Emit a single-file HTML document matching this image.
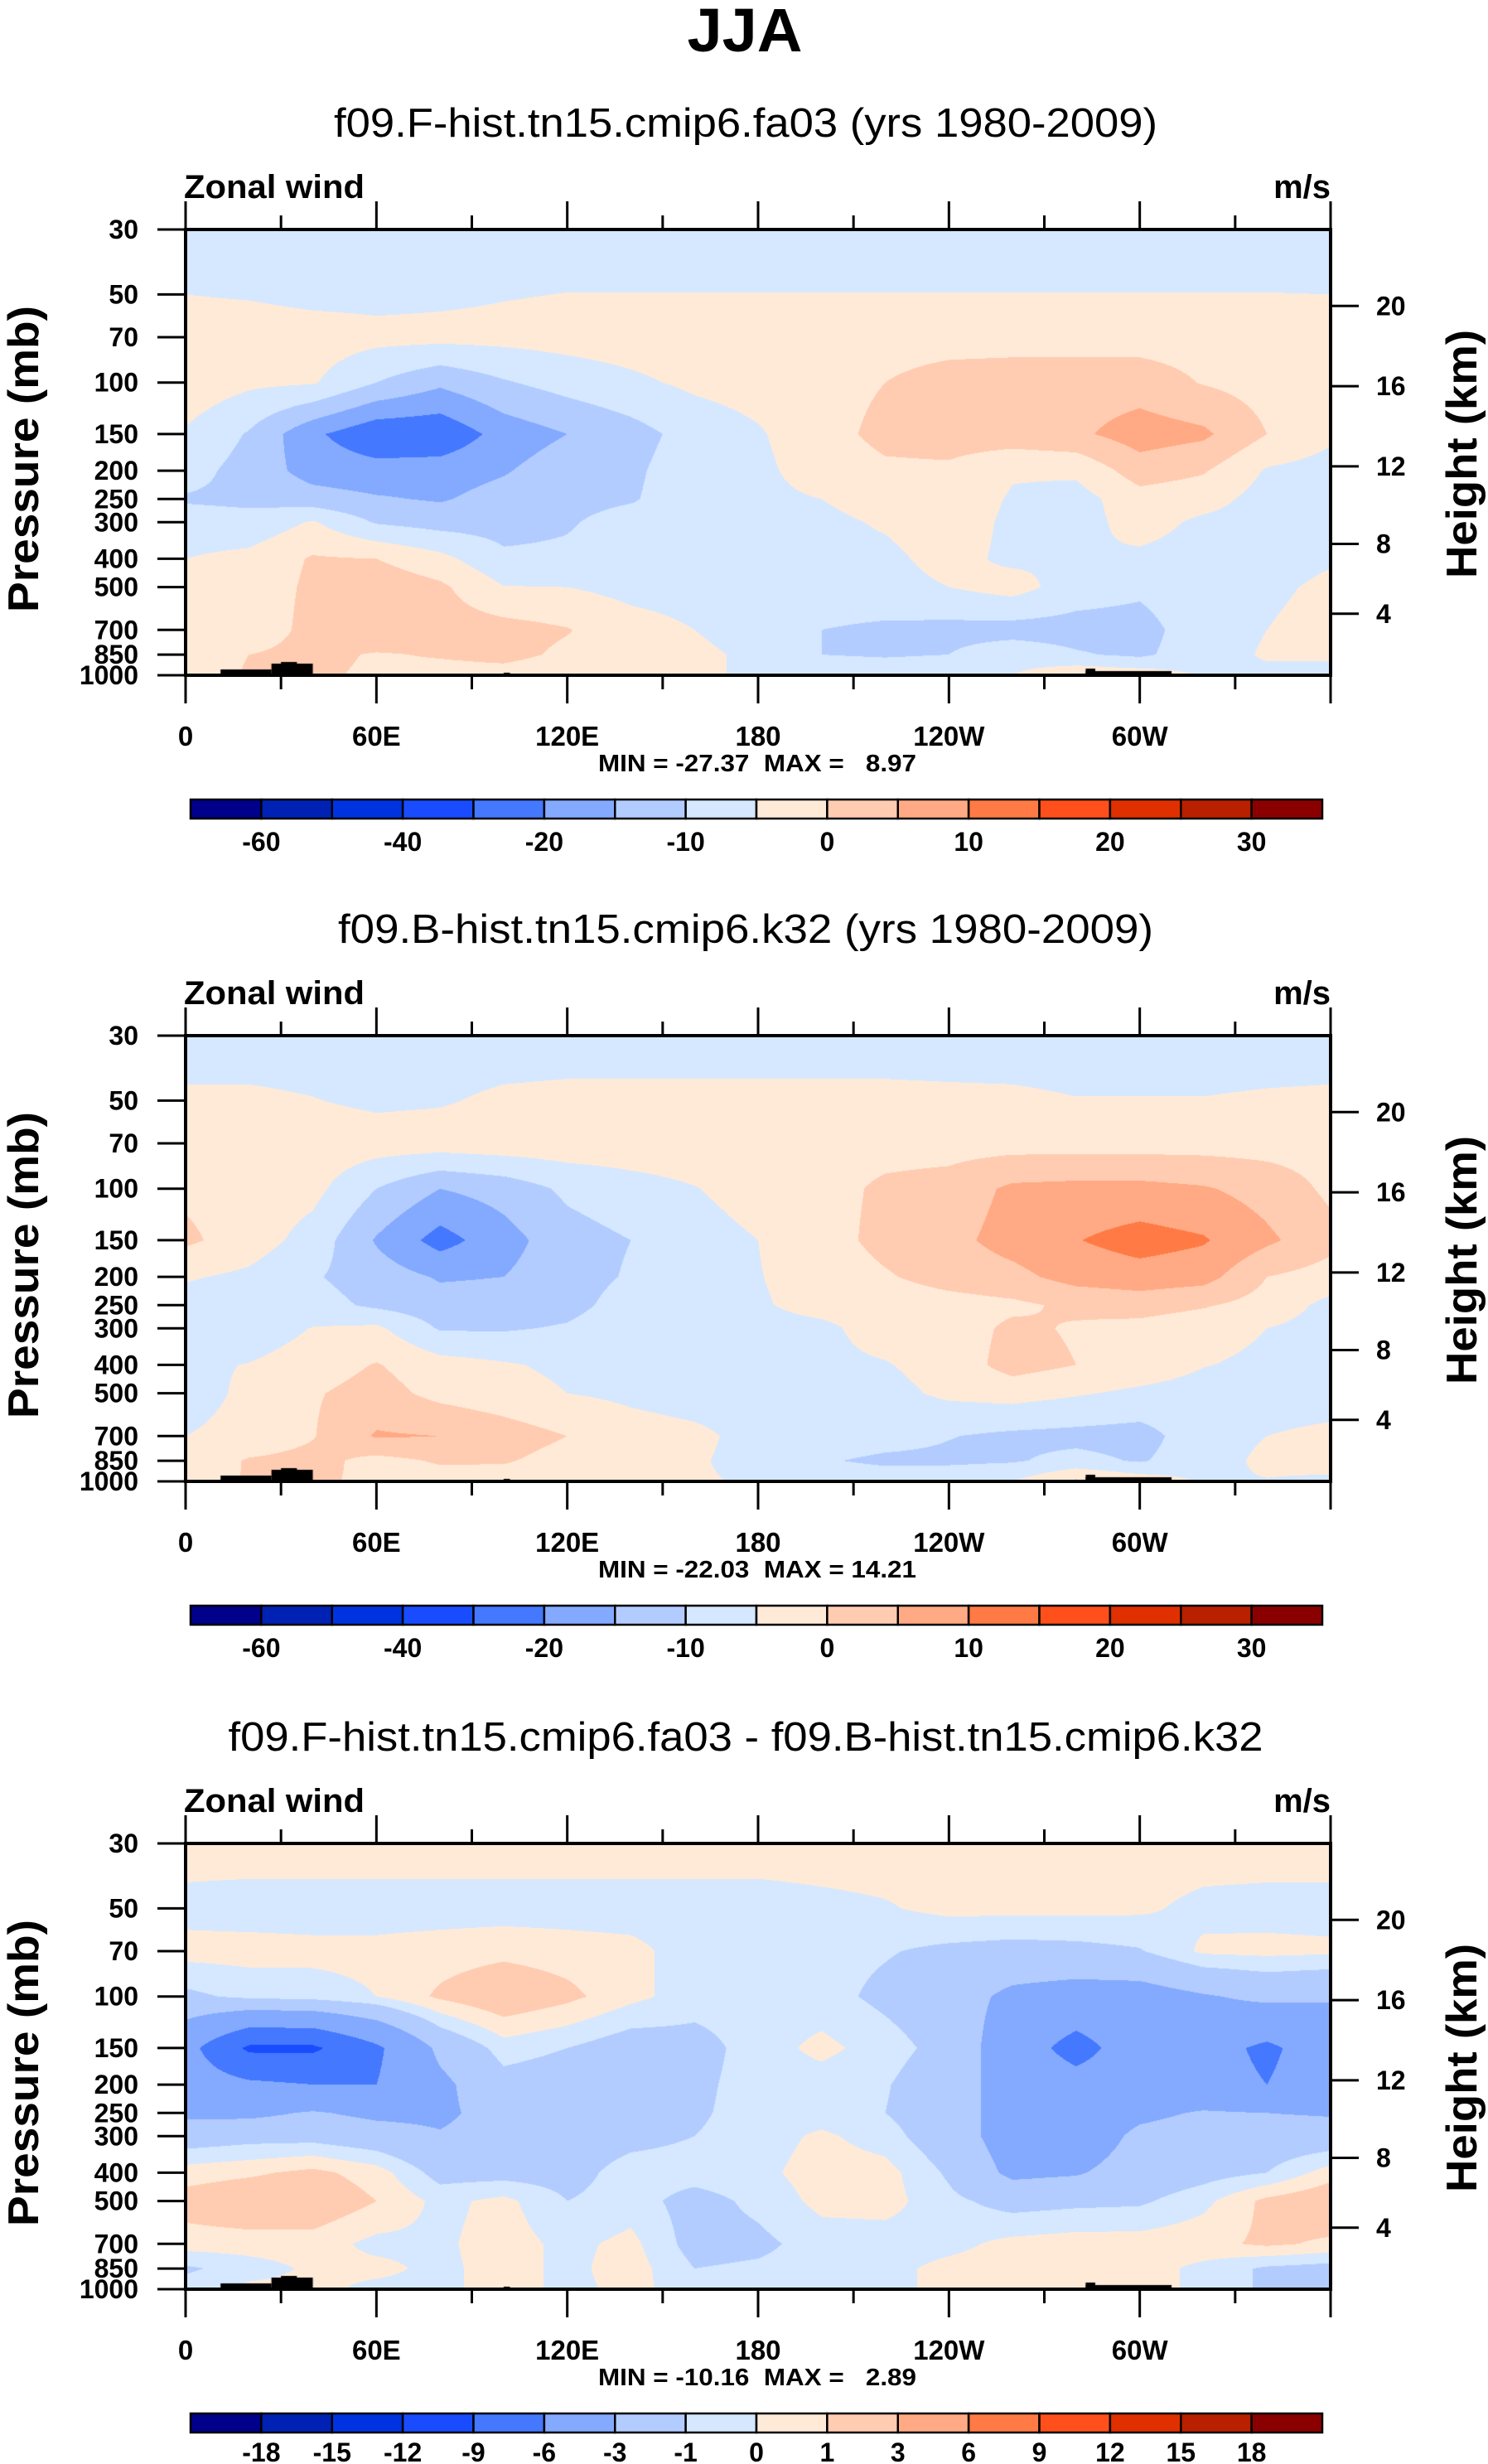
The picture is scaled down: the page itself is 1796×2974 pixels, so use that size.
<!DOCTYPE html>
<html><head><meta charset="utf-8">
<style>
html,body{margin:0;padding:0;background:#fff;}
body{width:1796px;height:2974px;position:relative;overflow:hidden;font-family:"Liberation Sans",Arial,sans-serif;}
canvas{position:absolute;}
svg{position:absolute;left:0;top:0;}
text{font-family:"Liberation Sans",Arial,sans-serif;fill:#000;white-space:pre;}
</style></head>
<body>
<canvas id="c0" width="1382" height="538" style="left:224px;top:277px"></canvas>
<canvas id="c1" width="1382" height="538" style="left:224px;top:1250px"></canvas>
<canvas id="c2" width="1382" height="538" style="left:224px;top:2225px"></canvas>
<svg id="ov" width="1796" height="2974" xmlns="http://www.w3.org/2000/svg"></svg>
<script>
// ---- data ----
const lonPoints=[0,20,40,60,80,100,120,140,160,180,200,220,240,260,280,300,320,340,360];
const pressureLevels=[30,50,70,100,150,200,250,300,400,500,700,850,1000];
const pressureTicks=[30,50,70,100,150,200,250,300,400,500,700,850,1000];
const heightTicks=[4,8,12,16,20];
const lonTickValues=[0,60,120,180,240,300];
const lonTickLabels=['0','60E','120E','180','120W','60W'];
const fullLevels=[-60,-50,-40,-30,-20,-15,-10,-5,0,5,10,15,20,25,30];
const fullLabels=['-60','','-40','','-20','','-10','','0','','10','','20','','30'];
const diffLevels=[-18,-15,-12,-9,-6,-3,-1,0,1,3,6,9,12,15,18];
const diffLabels=['-18','-15','-12','-9','-6','-3','-1','0','1','3','6','9','12','15','18'];
const colors=['#00008a','#0022b4','#0033e0','#1a4cff','#4478ff','#84aaff','#b3ccff','#d5e8ff','#ffead8','#ffccb2','#ffaa84','#ff7a44','#ff4f1a','#e03000','#b82000','#8a0000'];

const fa03Values=[
[-8,-8,-8,-8,-8,-8,-8,-8,-8,-8,-8,-8,-8,-8,-8,-8,-8,-8,-8],
[-5,-5.5,-6.5,-6.5,-6,-5.3,-4.9,-4.9,-4.9,-4.9,-4.9,-4.9,-4.9,-4.9,-4.9,-4.9,-4.9,-4.9,-5],
[-2,-2,-2.5,-3.5,-3.5,-3.5,-3,-2.5,-2,-2,-2,-2,-2,-2,-2,-2,-2,-2,-2],
[-1.8,-4,-4.5,-10,-14,-10.5,-8,-6,-4,-3,-2,0,2,2.5,2.5,2.5,-0.3,-2,-1.8],
[-5.5,-10.5,-19,-24,-24,-18,-15,-12,-8,-5.5,-2,1.5,2.5,3,4,7.5,6,0,-4],
[-8,-12,-17,-18,-17.5,-15.5,-12,-11,-7,-6,-3,-1,-1,-4.5,-4,2.5,0.5,-5.5,-7],
[-10.5,-11,-13,-14.5,-15.5,-13,-11.5,-10.5,-7,-6,-5,-3,-2,-5.5,-7,-2,-3,-7,-7],
[-8,-8.5,-4.5,-10.5,-12,-12,-10.5,-8,-7,-6.5,-6,-4.5,-2.5,-6,-7,-3,-6,-7,-7],
[-5,-3.5,0.5,0,-3.5,-9,-9,-7,-7,-7,-6.5,-6,-3.5,-6,-5,-6,-7,-7,-5.5],
[-3,-3,1,3.5,1,-4.8,-5,-6.5,-7,-7,-7,-6.5,-5,-3,-7.5,-9,-6.5,-6,-4],
[-3,-3,1.5,5,2.5,2,0.3,-3,-5,-7,-10,-11,-11.5,-12,-12,-12,-7,-5,-3],
[-2,0,1.5,-0.5,0.5,1.5,-1,-3,-4,-6,-10,-10.5,-10,-7,-9.5,-11,-7,-4.5,-5],
[-3,0.5,1,-1,-2,-2,-3,-3.5,-4.5,-5.5,-7,-7,-6.5,-5,-1,-2,-5.5,-6,-5]];

const k32Values=[
[-8,-8,-8,-8,-8,-8,-8,-8,-8,-8,-8,-8,-8,-8,-8,-8,-8,-8,-8],
[-4,-4,-4.8,-6,-5.5,-4,-3.5,-3.5,-3.5,-3.5,-3.5,-3.5,-3.8,-4,-4.8,-4.8,-4.8,-4.3,-4],
[-2,-2,-2,-2.5,-2.5,-2,-2,-2,-2,-2,-2,-2,-2,-2,-2,-2,-2,-2,-2],
[-1,-2,-3.5,-10,-15,-13,-9,-7,-5.2,-3,-2,1,2,6,6.5,6.5,5.5,3,-1],
[1,-2.5,-7,-15.5,-22,-17,-12,-10,-7,-5,-2,1.5,3.5,7,9.8,12,10.5,6,1.5],
[-4.5,-6,-9.5,-12.5,-15.5,-15,-12,-9.5,-7,-5.2,-3,-0.5,2,3.5,7,8,7,0,-2],
[-7,-7.5,-8,-11,-13,-13,-11.5,-8,-7,-5.5,-3.5,-3,-2,-1,1,2,0.5,-2,-6.5],
[-8,-8,-4.8,-4,-10.5,-10.5,-9.5,-7,-7,-6.5,-6,-3,-2.5,1,-0.5,-1.5,-3,-5,-7],
[-6,-4.8,-2.5,0.3,-3,-4.5,-6,-7,-7,-7,-6,-5.3,-3,2,0,-2,-4.8,-6,-6.5],
[-7,-4,-0.5,2,-1.5,-3,-5,-6,-7,-7,-7,-6.5,-4,-3,-4.5,-6,-7,-7,-7],
[-5,-3.5,-0.3,5.5,5,2.5,0,-3,-4,-6.5,-7,-8,-9.8,-11,-11.5,-12,-7,-5,-4],
[-3.5,0.5,1.5,-1.5,0.5,0.5,-2,-3,-4.5,-6.5,-9.5,-11,-11,-10.5,-8.5,-10.5,-7,-4,-3],
[-3,0.5,0.8,-1,-2,-2.5,-3,-3.5,-4.5,-5.5,-7,-7,-6.5,-5,1,-2,-5.5,-5.2,-6]];

const diffValues=[
[0.6,0.6,0.6,0.6,0.6,0.6,0.6,0.6,0.6,0.6,0.6,0.6,0.6,0.6,0.6,0.6,0.6,0.6,0.6],
[-0.4,-0.5,-0.5,-0.5,-0.5,-0.5,-0.5,-0.5,-0.5,-0.5,-0.3,-0.1,0.3,0.3,0.3,0.2,-0.3,-0.4,-0.4],
[0.4,0.4,0.3,0.3,0.5,0.7,0.5,0.3,-0.5,-0.5,-0.6,-0.9,-1.3,-1.5,-1.4,-1.1,0.2,0.3,0.2],
[-1.3,-0.7,-0.5,0,1.2,2,1.3,0.3,-0.5,-0.5,-0.6,-1.3,-2,-3.5,-4,-4,-3.2,-2.5,-2.8],
[-5,-9.5,-9.5,-6.5,-2.5,-0.5,-1,-1.8,-1.5,-0.5,0.3,-0.5,-1.5,-4.5,-7,-4.5,-5,-6.5,-4.5],
[-4.5,-5.5,-6,-6,-3.5,-1.5,-1.8,-1.5,-1.3,-0.5,-0.5,-0.9,-2,-4,-5,-4.5,-5,-6,-4.5],
[-3.5,-3.5,-2.8,-3.5,-3.5,-2,-1.8,-1.5,-1.2,-0.5,-0.5,-1,-2,-4,-4.5,-3.5,-2.8,-3,-3.2],
[-1.8,-1.5,-1.5,-2,-2.8,-2,-1.8,-1.4,-1,-0.5,0.2,-0.5,-2,-4,-4.5,-2.5,-2,-2,-2],
[0.5,0.8,1.3,0.5,-1.5,-1.5,-1.5,-0.5,-0.5,-0.3,0.5,0.4,-1.2,-3.5,-3.2,-2,-1.5,-1,0.5],
[1.5,2,2,1,-0.3,0.3,-1,-0.5,-1.5,-0.7,0.3,0.4,-0.7,-1.5,-1.3,-1.2,-0.3,1.3,2],
[0.5,0.5,0.5,-0.3,-0.2,0.5,-0.3,0.3,-1.5,-1.3,-0.5,-0.5,-0.3,0.3,0.5,0.5,0.7,1.2,0.8],
[-1.2,-0.5,0.2,0.3,-0.3,0.5,-0.3,0.5,-1,-0.8,-0.5,-0.3,0.3,0.5,0.5,0.5,-0.3,-1.2,-1.5],
[-0.5,0.3,0.3,-0.3,-0.3,0.5,-0.3,0.3,-0.5,-0.5,-0.5,-0.3,0.3,0.5,0.5,0.5,-0.3,-1.2,-1.5]];

// topography: [lonStart, lonEnd, heightPx]
const topoBlocks=[[11,27,7],[27,40,14],[30,35,16],[100,102,3],[283,310,5],[283,286,8]];

const panelTitles=['f09.F-hist.tn15.cmip6.fa03 (yrs 1980-2009)','f09.B-hist.tn15.cmip6.k32 (yrs 1980-2009)','f09.F-hist.tn15.cmip6.fa03 - f09.B-hist.tn15.cmip6.k32'];
const titleWidths=[994,984,1249];
const minMaxTexts=['MIN = -27.37  MAX =   8.97','MIN = -22.03  MAX = 14.21','MIN = -10.16  MAX =   2.89'];

// ---- geometry ----
const X0=224,W=1382,H=538;
const panelTops=[277,1250,2225];
const LOGSPAN=Math.log(1000/30);
function xOfLon(l){return X0+l/360*W;}
function yOfP(p,top){return top+H-H*Math.log(1000/p)/LOGSPAN;}
function pOfZ(z){const m=z*1000; if(m<=11000) return 1013.25*Math.pow(1-2.25577e-5*m,5.25588); return 226.32*Math.exp(-(m-11000)/6341.6);}
function classOf(v,levels){let c=0;for(const t of levels){if(v>=t)c++;}return c;}
function hexRgb(h){return [parseInt(h.substr(1,2),16),parseInt(h.substr(3,2),16),parseInt(h.substr(5,2),16)];}
const rgb=colors.map(hexRgb);

function drawField(id,vals,levels){
  const cv=document.getElementById(id),ctx=cv.getContext('2d');
  const img=ctx.createImageData(W,H);
  const logs=pressureLevels.map(p=>Math.log(1000/p));
  for(let j=0;j<H;j++){
    const t=(H-j-0.5)/H*LOGSPAN;
    let k=0; while(k<logs.length-2 && t<logs[k+1]) k++;
    let fy=(logs[k]-t)/(logs[k]-logs[k+1]); fy=Math.max(0,Math.min(1,fy));
    for(let i=0;i<W;i++){
      const lon=(i+0.5)/W*360, c=Math.min(lonPoints.length-2,Math.floor(lon/20)), fx=(lon-lonPoints[c])/20;
      const v=(vals[k][c]*(1-fx)+vals[k][c+1]*fx)*(1-fy)+(vals[k+1][c]*(1-fx)+vals[k+1][c+1]*fx)*fy;
      const col=rgb[classOf(v,levels)], o=(j*W+i)*4;
      img.data[o]=col[0];img.data[o+1]=col[1];img.data[o+2]=col[2];img.data[o+3]=255;
    }
  }
  ctx.putImageData(img,0,0);
  ctx.fillStyle='#000';
  for(const b of topoBlocks){const x1=(b[0]/360)*W,x2=(b[1]/360)*W;ctx.fillRect(x1,H-b[2],x2-x1,b[2]);}
}
drawField('c0',fa03Values,fullLevels);
drawField('c1',k32Values,fullLevels);
drawField('c2',diffValues,diffLevels);

// ---- overlay ----
const NS='http://www.w3.org/2000/svg', ov=document.getElementById('ov');
function el(tag,attrs,parent){const e=document.createElementNS(NS,tag);for(const k in attrs)e.setAttribute(k,attrs[k]);(parent||ov).appendChild(e);return e;}
function txt(s,attrs,parent){const e=el('text',attrs,parent);e.textContent=s;return e;}

const t0=txt('JJA',{x:899,y:62,'text-anchor':'middle','font-size':74,'font-weight':'bold',textLength:139,lengthAdjust:'spacingAndGlyphs'});



for(let pi=0;pi<3;pi++){
  const top=panelTops[pi], bot=top+H;
  const g=el('g',{});
  
  
  const st=txt(panelTitles[pi],{x:900,y:top-112,'text-anchor':'middle','font-size':49,textLength:titleWidths[pi],lengthAdjust:'spacingAndGlyphs'});
  
  
  g.appendChild(st);
  const zw=txt('Zonal wind',{x:222,y:top-38,'font-size':40,'font-weight':'bold',textLength:218,lengthAdjust:'spacingAndGlyphs'},g);
  
  
  const un=txt('m/s',{x:1606,y:top-38,'text-anchor':'end','font-size':40,'font-weight':'bold'},g);
  
  
  for(let l=0;l<=360;l+=30){
    const x=xOfLon(l), major=(l%60===0), len=major?34:17;
    const tt=el('line',{x1:x,y1:top,x2:x,y2:top-len,stroke:'#000','stroke-width':3},g);
    
    
    const tb=el('line',{x1:x,y1:bot,x2:x,y2:bot+len,stroke:'#000','stroke-width':3},g);
    
    
  }
  lonTickValues.forEach((l,i)=>{
    const t=txt(lonTickLabels[i],{x:xOfLon(l),y:bot+85,'text-anchor':'middle','font-size':33,'font-weight':'bold'},g);
    
    
  });
  pressureTicks.forEach(p=>{
    const y=yOfP(p,top);
    const tl=el('line',{x1:190,y1:y,x2:X0,y2:y,stroke:'#000','stroke-width':3},g);
    
    
    const t=txt(String(p),{x:167,y:y+11,'text-anchor':'end','font-size':32,'font-weight':'bold'},g);
    
    
  });
  heightTicks.forEach(z=>{
    const y=yOfP(pOfZ(z),top);
    const tr=el('line',{x1:X0+W,y1:y,x2:X0+W+34,y2:y,stroke:'#000','stroke-width':3},g);
    
    
    const t=txt(String(z),{x:1661,y:y+11,'font-size':32,'font-weight':'bold'},g);
    
    
  });
  const frame=el('rect',{x:X0,y:top,width:W,height:H,fill:'none',stroke:'#000','stroke-width':4},g);
  
  
  const cy=top+H/2;
  const yt=txt('Pressure (mb)',{x:0,y:0,'text-anchor':'middle','font-size':52,'font-weight':'bold',textLength:370,lengthAdjust:'spacingAndGlyphs',transform:'translate(46,'+(cy+8)+') rotate(-90)'},g);
  
  
  const ht=txt('Height (km)',{x:0,y:0,'text-anchor':'middle','font-size':52,'font-weight':'bold',textLength:300,lengthAdjust:'spacingAndGlyphs',transform:'translate(1782,'+(cy+2)+') rotate(-90)'},g);
  
  
  const mm=txt(minMaxTexts[pi],{x:914,y:bot+116,'text-anchor':'middle','font-size':29,'font-weight':'bold',textLength:384,lengthAdjust:'spacingAndGlyphs'},g);
  
  
  const cbTop=top+688, cbL=230, cbW=1366, cbH=23, bw=cbW/16;
  const lab=pi<2?fullLabels:diffLabels;
  colors.forEach((c,i)=>{
    const r=el('rect',{x:cbL+i*bw,y:cbTop,width:bw,height:cbH,fill:c,stroke:'#000','stroke-width':2.5},g);
    
    
  });
  lab.forEach((s,i)=>{
    if(!s) return;
    const t=txt(s,{x:cbL+(i+1)*bw,y:cbTop+(pi<2?62:58),'text-anchor':'middle','font-size':32,'font-weight':'bold'},g);
    
    
  });
}
</script>
</body></html>
